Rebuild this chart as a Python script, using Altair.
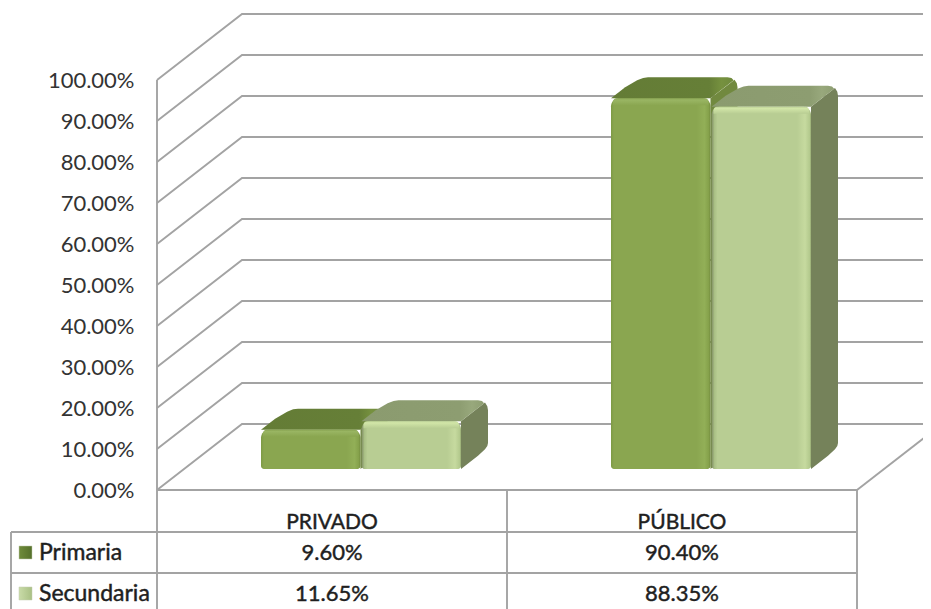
import altair as alt
import pandas as pd

categories = ["PRIVADO", "PÚBLICO"]
primaria = [9.60, 90.40]
secundaria = [11.65, 88.35]
series_names = ["Primaria", "Secundaria"]
y_ticks = [0, 10, 20, 30, 40, 50, 60, 70, 80, 90, 100]

FONT = "Lato"
GRID = "#a3a3a3"
TXT = "#1f1f1f"

# ---- scale helpers: one category slot = 350px, one percent = 4.1px
PXU = 350.0
PYU = 4.1
x_dom = [(8 - 157) / PXU, (923 - 157) / PXU]
y_dom = [(490 - 609) / PYU, (490 - 8) / PYU]
xs = alt.Scale(domain=x_dom, nice=False, zero=False)
ys = alt.Scale(domain=y_dom, nice=False, zero=False)

axis = alt.Axis(
    values=y_ticks, orient="left", offset=-149, domain=False, ticks=False, grid=False,
    title=None, labelPadding=23, labelFont=FONT, labelFontSize=22, labelColor="#333333",
    labelExpr="format(datum.value,'.2f')+'%'",
)


def X(f):
    return alt.X(f, type="quantitative", scale=xs, axis=None)


def Y(f):
    return alt.Y(f, type="quantitative", scale=ys, axis=axis)


WALL_X = 85 / PXU
WALL_Y = 66 / PYU
BAR_DX = 27 / PXU
BAR_DY = 21 / PYU
BAR_START = 104 / PXU
BAR_W = 99.5 / PXU
ROW1 = (490 - 532) / PYU
ROW2 = (490 - 573) / PYU
BOTTOM = y_dom[0]
LEFT_T = (11 - 157) / PXU

# ---- walls
grid_rows = []
for t in y_ticks:
    grid_rows += [
        dict(g=t, o=0, x=0, y=t),
        dict(g=t, o=1, x=WALL_X, y=t + WALL_Y),
        dict(g=t, o=2, x=x_dom[1] + 0.1, y=t + WALL_Y),
    ]
grid_rows += [dict(g=-1, o=0, x=2, y=0), dict(g=-1, o=1, x=2 + WALL_X, y=WALL_Y)]
grid = alt.Chart(pd.DataFrame(grid_rows)).mark_line(color=GRID, strokeWidth=1.9, clip=True).encode(
    x=X("x"), y=Y("y"), detail="g:N", order="o:Q"
)

# ---- table lines
table_lines = pd.DataFrame([
    dict(x=0, x2=0, y=0, y2=100),
    dict(x=0, x2=0, y=BOTTOM, y2=0),
    dict(x=1, x2=1, y=BOTTOM, y2=0),
    dict(x=2, x2=2, y=BOTTOM, y2=0),
    dict(x=LEFT_T, x2=LEFT_T, y=BOTTOM, y2=ROW1),
    dict(x=0, x2=2, y=0, y2=0),
    dict(x=LEFT_T, x2=2, y=ROW1, y2=ROW1),
    dict(x=LEFT_T, x2=2, y=ROW2, y2=ROW2),
])
rules = alt.Chart(table_lines).mark_rule(color=GRID, strokeWidth=1.9).encode(
    x=X("x"), x2="x2:Q", y=Y("y"), y2="y2:Q"
)


def grad(stops, horizontal=True):
    kw = dict(x1=0, x2=1, y1=0, y2=0) if horizontal else dict(x1=0, x2=0, y1=0, y2=1)
    return alt.Gradient(
        gradient="linear",
        stops=[alt.GradientStop(offset=o, color=c) for o, c in stops],
        **kw,
    )


styles = [
    dict(
        side="#71893f", top=grad([(0, "#647c36"), (0.8, "#667f37"), (0.9, "#76913f"), (1, "#6f8a3d")]),
        front=grad([(0, "#7d9a45"), (0.03, "#8aa650"), (0.86, "#8aa650"), (0.94, "#92af57"), (0.985, "#84a04a"), (1, "#6d8539")]),
        bevel=grad([(0, "#7f9b47"), (0.2, "#9ab664"), (1, "#8aa650")], horizontal=False),
        key=grad([(0, "#6f8b3b"), (1, "#55702a")]),
    ),
    dict(
        side="#75825a", top=grad([(0, "#8b9b6f"), (0.8, "#8d9d71"), (0.9, "#98a87c"), (1, "#8e9e72")]),
        front=grad([(0, "#7f8d63"), (0.03, "#a9bf85"), (0.06, "#b8cd93"), (0.86, "#b8cd93"), (0.94, "#c6da9f"), (0.985, "#b4ca8e"), (1, "#97ab72")]),
        bevel=grad([(0, "#b9cf93"), (0.22, "#d2e6a8"), (1, "#b8cd93")], horizontal=False),
        key=grad([(0, "#c9dba8"), (1, "#a9c084")]),
    ),
]

RX = 10 / PXU
RY = 10 / PYU
bar_layers = []
for s, (name, values, st) in enumerate(zip(series_names, [primaria, secundaria], styles)):
    fronts, tops, sides, bevels = [], [], [], []
    for c, v in enumerate(values):
        xl = c + BAR_START + s * (BAR_W + 1 / PXU)
        xr = xl + BAR_W
        base = BAR_DY
        yt = base + v
        yb = yt + BAR_DY
        cx = xr + BAR_DX
        fronts.append(dict(x=xl, x2=xr, y=base, y2=yt))
        bevels.append(dict(x=xl + 2 / PXU, x2=xr - 2 / PXU, y=yt, y2=yt - 7 / PYU))

        def diag_left(yy):
            return xl + BAR_DX * (yy - yt) / BAR_DY

        def diag_right(yy):
            return xr + BAR_DX * (yy - yt) / BAR_DY

        # top face as a band between its left and right outlines
        for yy, il, xb in [
            (yt, 0, diag_right(yt)),
            (yb - RY, 0, diag_right(yb - RY)),
            (yb - 0.3 * RY, 0.3 * RX, diag_right(yb - 0.3 * RY)),
            (yb - 0.07 * RY, 0.6 * RX, cx - 0.6 * RX),
            (yb, RX, cx - RX),
        ]:
            tops.append(dict(c=c, y=yy, xa=diag_left(yy) + il, xb=xb))
        # side face as a band between its upper and lower outlines
        for xx, ya, yl in [
            (xr, yt, base),
            (cx - RX, yt + BAR_DY * (cx - RX - xr) / BAR_DX, base + BAR_DY * (cx - RX - xr) / BAR_DX),
            (cx - 0.3 * RX, yt + BAR_DY * (cx - 0.3 * RX - xr) / BAR_DX,
             base + BAR_DY * (cx - 0.3 * RX - xr) / BAR_DX + 0.1 * RY),
            (cx - 0.07 * RX, yb - 0.6 * RY, base + BAR_DY + 0.2 * RY),
            (cx, yb - RY, base + BAR_DY + 0.5 * RY),
        ]:
            sides.append(dict(c=c, x=xx, ya=ya, yb=yl))
    bar_layers += [
        alt.Chart(pd.DataFrame(sides)).mark_area(fill=st["side"]).encode(
            x=X("x"), y=Y("ya"), y2="yb:Q", detail="c:N"
        ),
        alt.Chart(pd.DataFrame(tops)).mark_area(orient="horizontal", fill=st["top"]).encode(
            y=Y("y"), x=X("xa"), x2="xb:Q", detail="c:N"
        ),
        alt.Chart(pd.DataFrame(fronts)).mark_rect(
            color=st["front"], cornerRadiusTopLeft=8, cornerRadiusTopRight=8,
            cornerRadiusBottomLeft=3, cornerRadiusBottomRight=3,
        ).encode(x=X("x"), x2="x2:Q", y=Y("y"), y2="y2:Q"),
        alt.Chart(pd.DataFrame(bevels)).mark_rect(
            color=st["bevel"], cornerRadiusTopLeft=7, cornerRadiusTopRight=7,
        ).encode(x=X("x"), x2="x2:Q", y=Y("y"), y2="y2:Q"),
    ]

# ---- table text
cat_text = pd.DataFrame([dict(x=i + 0.5, y=(490 - 522.5) / PYU, t=c) for i, c in enumerate(categories)])
val_rows = []
row_mid = [(490 - 552.5) / PYU, (490 - 593.5) / PYU]
for r, vals in enumerate([primaria, secundaria]):
    for i, v in enumerate(vals):
        val_rows.append(dict(x=i + 0.5, y=row_mid[r], t=f"{v:.2f}%"))
name_rows = [dict(x=(39 - 157) / PXU, y=row_mid[r], t=n) for r, n in enumerate(series_names)]

text_style = dict(font=FONT, color=TXT, stroke=TXT, strokeWidth=0.45, baseline="middle")
cat_layer = alt.Chart(cat_text).mark_text(fontSize=21, align="center", **text_style).encode(
    x=X("x"), y=Y("y"), text="t:N")
val_layer = alt.Chart(pd.DataFrame(val_rows)).mark_text(fontSize=22, align="center", **text_style).encode(
    x=X("x"), y=Y("y"), text="t:N")
name_layer = alt.Chart(pd.DataFrame(name_rows)).mark_text(fontSize=23, align="left", **text_style).encode(
    x=X("x"), y=Y("y"), text="t:N")

key_layers = []
for r, st in enumerate(styles):
    key_layers.append(
        alt.Chart(pd.DataFrame([dict(x=(25.5 - 157) / PXU, y=(row_mid[r]))])).mark_square(
            size=170, color=st["key"], opacity=1, stroke="#c6cfb4", strokeWidth=0.5
        ).encode(x=X("x"), y=Y("y"))
    )

chart = alt.layer(
    grid, rules, *bar_layers, cat_layer, val_layer, name_layer, *key_layers
).properties(
    width=915, height=601, padding=0, autosize=alt.AutoSizeParams(type="none"), background="white"
).configure_view(stroke=None)

chart.save("out.html", embed_options={"renderer": "svg", "actions": False})
